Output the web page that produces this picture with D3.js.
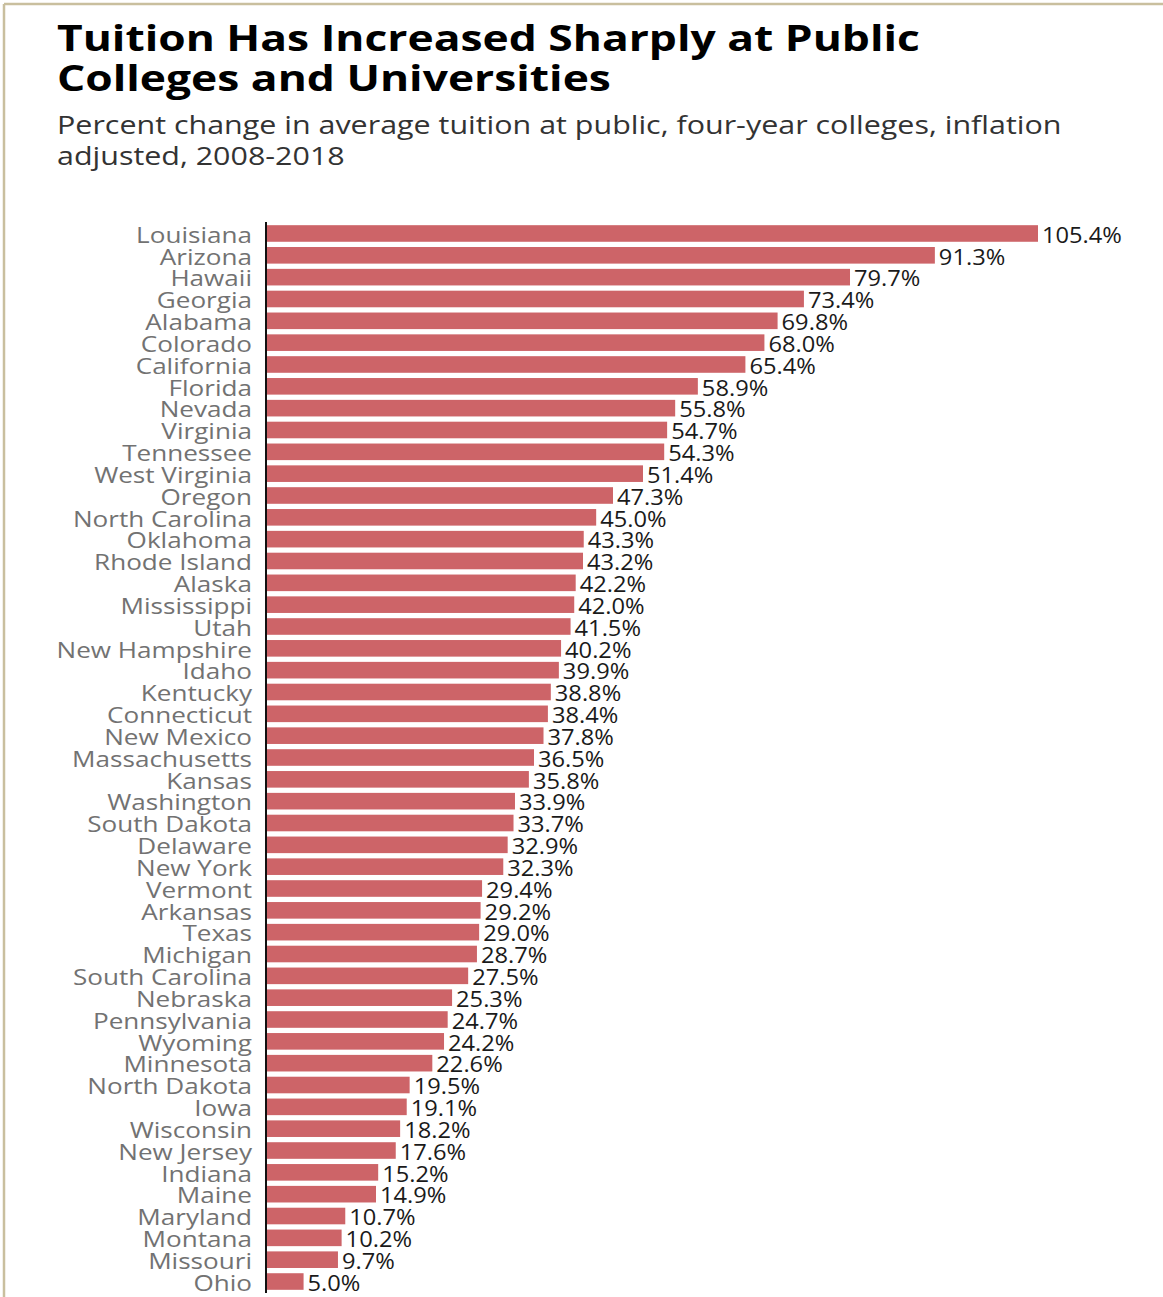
<!DOCTYPE html>
<html><head><meta charset="utf-8">
<script src="https://cdn.jsdelivr.net/npm/d3@7"></script>
<style>body{margin:0;background:#fff;} text{font-family:"Open Sans", "Noto Sans", sans-serif;}</style>
</head><body>
<svg id="c" width="1163" height="1297"></svg>
<script>
const states = ["Louisiana","Arizona","Hawaii","Georgia","Alabama","Colorado","California","Florida","Nevada","Virginia","Tennessee","West Virginia","Oregon","North Carolina","Oklahoma","Rhode Island","Alaska","Mississippi","Utah","New Hampshire","Idaho","Kentucky","Connecticut","New Mexico","Massachusetts","Kansas","Washington","South Dakota","Delaware","New York","Vermont","Arkansas","Texas","Michigan","South Carolina","Nebraska","Pennsylvania","Wyoming","Minnesota","North Dakota","Iowa","Wisconsin","New Jersey","Indiana","Maine","Maryland","Montana","Missouri","Ohio"];
const values = [105.4,91.3,79.7,73.4,69.8,68.0,65.4,58.9,55.8,54.7,54.3,51.4,47.3,45.0,43.3,43.2,42.2,42.0,41.5,40.2,39.9,38.8,38.4,37.8,36.5,35.8,33.9,33.7,32.9,32.3,29.4,29.2,29.0,28.7,27.5,25.3,24.7,24.2,22.6,19.5,19.1,18.2,17.6,15.2,14.9,10.7,10.2,9.7,5.0];
const title = ["Tuition Has Increased Sharply at Public","Colleges and Universities"];
const subtitle = ["Percent change in average tuition at public, four-year colleges, inflation","adjusted, 2008-2018"];

const svg = d3.select("#c");

// horizontal stretch so that sample reaches target width
function stretchFor(sample, size, weight, target){
  const t = svg.append("text").attr("font-size",size).attr("font-weight",weight).text(sample);
  const w = t.node().getComputedTextLength();
  t.remove();
  return target / w;
}

// frame
svg.append("line").attr("x1",4).attr("x2",1163).attr("y1",4).attr("y2",4).attr("stroke","#c9bf9e").attr("stroke-width",2.5);
svg.append("line").attr("x1",4).attr("x2",4).attr("y1",4).attr("y2",1297).attr("stroke","#c9bf9e").attr("stroke-width",2.5);

const fT = stretchFor(title[0],35,700,863);
svg.append("g").attr("transform",`translate(57,0) scale(${fT},1)`)
  .selectAll("text").data(title).join("text")
  .attr("x",0).attr("y",(d,i)=>51+i*40).attr("font-size",35).attr("font-weight",700)
  .attr("fill","#000").text(d=>d);
const fS = stretchFor(subtitle[0],26,400,1005);
svg.append("g").attr("transform",`translate(57,0) scale(${fS},1)`)
  .selectAll("text").data(subtitle).join("text")
  .attr("x",0).attr("y",(d,i)=>134+i*31).attr("font-size",26)
  .attr("fill","#333").text(d=>d);

const x0 = 267;
const x = d3.scaleLinear().domain([0,105.4]).range([x0,1038]);
const y = d3.scaleBand().domain(states).range([223,1292]).paddingInner(0.24).paddingOuter(0.1);

svg.append("g").selectAll("rect").data(states).join("rect")
  .attr("x",x(0)).attr("y",d=>y(d)).attr("height",y.bandwidth())
  .attr("width",(d,i)=>x(values[i])-x(0)).attr("fill","#cd6468");

svg.append("line").attr("x1",x0-1).attr("x2",x0-1).attr("y1",222).attr("y2",1293).attr("stroke","#111").attr("stroke-width",2);

const fL = stretchFor("Massachusetts",22,400,180);
svg.append("g").attr("transform",`translate(252,0) scale(${fL},1)`)
  .selectAll("text").data(states).join("text")
  .attr("x",0).attr("y",d=>y(d)+y.bandwidth()/2).attr("dy","0.42em").attr("text-anchor","end")
  .attr("font-size",22).attr("fill","#727272").text(d=>d);

const fV = stretchFor("105.4%",22,400,80);
svg.append("g").selectAll("text").data(states).join("text")
  .attr("transform",(d,i)=>`translate(${x(values[i])+4},0) scale(${fV},1)`)
  .attr("x",0).attr("y",d=>y(d)+y.bandwidth()/2).attr("dy","0.42em")
  .attr("font-size",22).attr("fill","#1a1a1a").text((d,i)=>values[i].toFixed(1)+"%");
</script>
</body></html>
